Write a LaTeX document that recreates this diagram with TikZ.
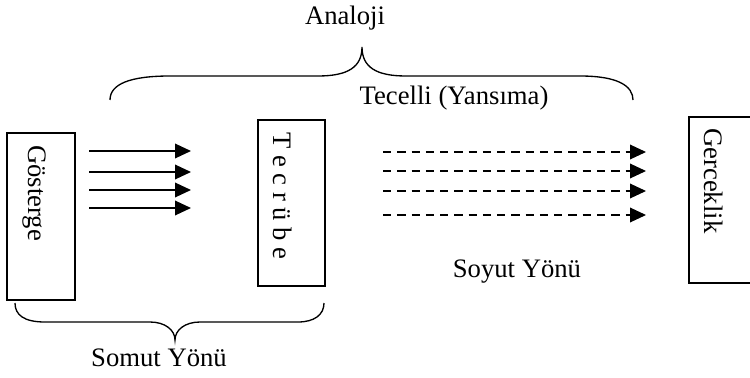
\documentclass[tikz,border=0pt]{standalone}
\usepackage{fontspec}
\setmainfont{Liberation Serif}
\usetikzlibrary{arrows.meta}

\begin{document}
\begin{tikzpicture}[x=0.75pt,y=-0.75pt,
  box/.style={draw, line width=1pt, inner sep=0pt, outer sep=0pt},
  label/.style={inner sep=0pt, font=\fontsize{20}{24}\selectfont},
  sidetext/.style={label, rotate=-90, anchor=west},
  tip/.style={-{Triangle[length=12pt,width=11pt]}},
  solidarrow/.style={tip, line width=1pt},
  dasharrow/.style={tip, line width=1pt, dash pattern=on 6.2pt off 4.5pt},
  brace/.style={line width=1pt}]
\clip (0,0) rectangle (750,378);
\fill[white] (0,0) rectangle (750,378);

% the three boxes
\node[box, minimum width=51pt, minimum height=125.25pt] (gosterge) at (41,216.5) {};
\node[box, minimum width=50.25pt, minimum height=124.5pt] (tecrube) at (291.5,203) {};
\node[box, minimum width=60.75pt, minimum height=124.5pt] (gerceklik) at (729.5,200) {};

% vertical labels inside the boxes
\node[sidetext] (tGosterge) at (34,145) {Gösterge};
\node[sidetext] (tTecrube) at (283,132) {T e c r ü b e};
\node[sidetext] (tGerceklik) at (714,128) {Gerceklik};

% concrete direction: solid arrows
\foreach \i/\y in {1/151,2/172,3/190,4/208}{
  \coordinate (sa\i) at (89,\y);
  \coordinate (sb\i) at (191,\y);
  \draw[solidarrow] (sa\i) -- (sb\i);
}

% abstract direction: dashed arrows
\foreach \i/\y in {1/152,2/171,3/191,4/215}{
  \coordinate (da\i) at (383,\y);
  \coordinate (db\i) at (646,\y);
  \draw[dasharrow] (da\i) -- (db\i);
}

% upper brace
\coordinate (ubL) at (110,100);
\coordinate (ubTip) at (362,47);
\coordinate (ubR) at (633,100);
\draw[brace] (ubL) .. controls (110,84) and (130,76) .. (170,76) -- (318,76)
  .. controls (348,76) and (362,67) .. (ubTip)
  .. controls (362,67) and (376,76) .. (406,76) -- (580,76)
  .. controls (618,76) and (633,86) .. (ubR);

% lower brace
\coordinate (lbL) at (15,303);
\coordinate (lbTip) at (175,340);
\coordinate (lbR) at (324,303);
\draw[brace] (lbL) .. controls (15,315) and (24,322) .. (45,322) -- (150,322)
  .. controls (165,322) and (175,330) .. (lbTip)
  .. controls (175,330) and (185,322) .. (200,322) -- (298,322)
  .. controls (314,322) and (324,315) .. (lbR);

% captions
\node[label] (analoji) at (345,18) {Analoji};
\node[label] (tecelli) at (454,98) {Tecelli (Yansıma)};
\node[label] (soyut) at (517,272) {Soyut Yönü};
\node[label] (somut) at (159,358) {Somut Yönü};
\end{tikzpicture}
\end{document}
